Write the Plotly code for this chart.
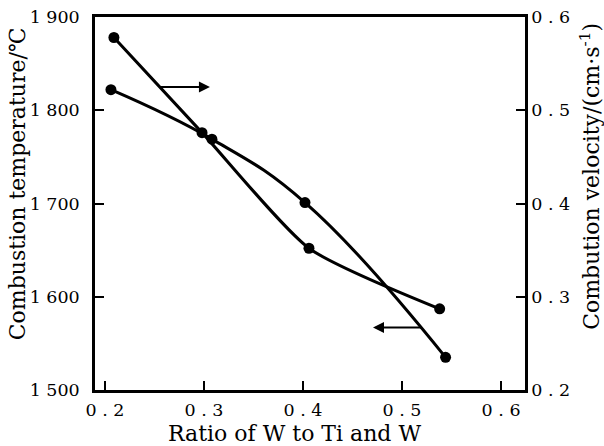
import plotly.graph_objects as go

# ---- data ----
ratio_temp = [0.206, 0.308, 0.402, 0.544]
temperature = [1822, 1769, 1701, 1535]          # combustion temperature, deg C (left axis)

ratio_vel = [0.209, 0.298, 0.406, 0.538]
velocity = [0.578, 0.476, 0.352, 0.287]         # combustion velocity, cm/s (right axis)

x_ticks = [0.2, 0.3, 0.4, 0.5, 0.6]
x_ticktext = ["0 . 2", "0 . 3", "0 . 4", "0 . 5", "0 . 6"]
temp_ticks = [1500, 1600, 1700, 1800, 1900]
temp_ticktext = ["1 500", "1 600", "1 700", "1 800", "1 900"]
vel_ticks = [0.2, 0.3, 0.4, 0.5, 0.6]
vel_ticktext = ["0 . 2", "0 . 3", "0 . 4", "0 . 5", "0 . 6"]

x_title = "Ratio of W to Ti and W"
temp_title = "Combustion temperature/℃"
vel_title = "Combution velocity/(cm·s<sup>-1</sup>)"

# arrow pointers (tail on curve, head pointing to its axis)
arrow_vel_tail = (0.2535, 0.525)
arrow_vel_head = (0.306, 0.525)
arrow_temp_tail = (0.521, 1567)
arrow_temp_head = (0.4707, 1567)

FONT = "DejaVu Serif"
TICK_SIZE = 17.5
TITLE_SIZE = 22

fig = go.Figure()
fig.add_trace(go.Scatter(
    x=ratio_temp, y=temperature, mode="lines+markers",
    line=dict(color="black", width=3, shape="spline", smoothing=1.2),
    marker=dict(color="black", size=11),
    yaxis="y", showlegend=False,
))
fig.add_trace(go.Scatter(
    x=ratio_vel, y=velocity, mode="lines+markers",
    line=dict(color="black", width=3, shape="spline", smoothing=0.6),
    marker=dict(color="black", size=11),
    yaxis="y2", showlegend=False,
))

fig.add_annotation(
    x=arrow_vel_head[0], y=arrow_vel_head[1], xref="x", yref="y2",
    ax=arrow_vel_tail[0], ay=arrow_vel_tail[1], axref="x", ayref="y2",
    text="", showarrow=True, arrowhead=2, arrowsize=1.1, arrowwidth=2, arrowcolor="black",
)
fig.add_annotation(
    x=arrow_temp_head[0], y=arrow_temp_head[1], xref="x", yref="y",
    ax=arrow_temp_tail[0], ay=arrow_temp_tail[1], axref="x", ayref="y",
    text="", showarrow=True, arrowhead=2, arrowsize=1.1, arrowwidth=2, arrowcolor="black",
)

# axis titles placed as annotations
title_font = dict(family=FONT, size=TITLE_SIZE, color="black")
fig.add_annotation(text=x_title, xref="paper", yref="paper", x=0.465, y=-0.116,
                   xanchor="center", yanchor="middle", showarrow=False, font=title_font)
fig.add_annotation(text=temp_title, xref="paper", yref="paper", x=-0.181, y=0.552,
                   xanchor="center", yanchor="middle", textangle=-90, showarrow=False, font=title_font)
fig.add_annotation(text=vel_title, xref="paper", yref="paper", x=1.151, y=0.574,
                   xanchor="center", yanchor="middle", textangle=-90, showarrow=False, font=title_font)

axis_common = dict(
    showline=True, linecolor="black", linewidth=2.5,
    ticks="inside", ticklen=9, tickwidth=2, tickcolor="black",
    showgrid=False, zeroline=False, automargin=False,
    tickfont=dict(family=FONT, size=TICK_SIZE, color="black"),
)

fig.update_layout(
    width=604, height=446,
    margin=dict(l=95, r=79, t=17, b=56),
    paper_bgcolor="white", plot_bgcolor="white",
    font=dict(family=FONT, color="black"),
    xaxis=dict(range=[0.1899, 0.6242], tickvals=x_ticks, ticktext=x_ticktext, mirror=True,
               ticklabelstandoff=2, **axis_common),
    yaxis=dict(range=[1500, 1900], tickvals=temp_ticks, ticktext=temp_ticktext,
               ticklabelstandoff=9, **axis_common),
    yaxis2=dict(range=[0.2, 0.6], tickvals=vel_ticks, ticktext=vel_ticktext,
                overlaying="y", side="right", ticklabelstandoff=0, **axis_common),
)

# remove the default page margin so the figure sits at the window's top-left corner
fig.write_html("out.html", config={"displayModeBar": False},
               post_script="document.body.style.margin='0';")
